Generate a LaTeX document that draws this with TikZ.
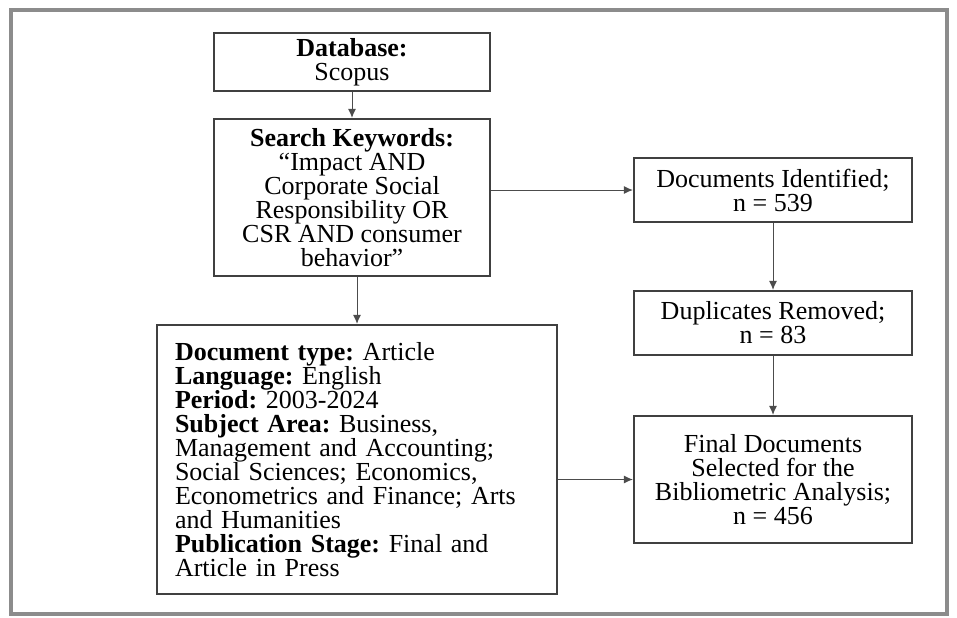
\documentclass[tikz,border=0pt]{standalone}
\usepackage{fontspec}
\setmainfont{Liberation Serif}
\usetikzlibrary{positioning,arrows.meta}
\tikzstyle{block} = [draw=black!75, line width=1.1pt, fill=white, rectangle, align=center, inner sep=2pt]
\tikzstyle{frame} = [draw=black!45, line width=1.6pt]
\tikzset{flow/.style={draw=black!70, line width=0.5pt, -{Latex[length=4.5pt,width=4pt]}}}

\begin{document}
\begin{tikzpicture}[font=\fontsize{13}{12}\selectfont\frenchspacing, node distance=66.5pt]
        \useasboundingbox (0,0) rectangle (478.5pt,-308.5pt);
        \draw [frame] (5.5pt,-5pt) rectangle (473.5pt,-307pt);

        \node [block, minimum width=138pt, minimum height=29pt] (db) at (176pt,-31pt) {\textbf{Database:}\\Scopus};
        \node [block, minimum width=138pt, minimum height=78.5pt, below of=db, node distance=67.75pt] (kw) {\textbf{Search Keywords:}\\“Impact AND\\Corporate Social\\Responsibility OR\\CSR AND consumer\\behavior”};
        \node [block, text width=182pt, inner xsep=9pt, minimum height=134.5pt, align=left, below of=kw, node distance=131pt, xshift=2.5pt] (crit) {\textbf{Document type:} Article\\\textbf{Language:} English\\\textbf{Period:} 2003-2024\\\textbf{Subject Area:} Business,\\Management and Accounting;\\Social Sciences; Economics,\\Econometrics and Finance; Arts\\and Humanities\\\textbf{Publication Stage:} Final and\\Article in Press};
        \node [block, minimum width=139pt, minimum height=32pt, right of=kw, node distance=210.5pt, yshift=3.75pt] (ident) {Documents Identified;\\n = 539};
        \node [block, minimum width=139pt, minimum height=32pt, below of=ident] (dupl) {Duplicates Removed;\\n = 83};
        \node [block, minimum width=139pt, minimum height=63.5pt, below of=dupl, node distance=78.25pt] (final) {Final Documents\\Selected for the\\Bibliometric Analysis;\\n = 456};

        \draw [flow] (db) -- (kw);
        \draw [flow] (kw.east |- ident.west) -- (ident.west);
        \draw [flow] (crit.north |- kw.south) -- (crit.north);
        \draw [flow] (ident) -- (dupl);
        \draw [flow] (dupl) -- (final);
        \draw [flow] (crit.east |- final.west) -- (final.west);
    \end{tikzpicture}
\end{document}
